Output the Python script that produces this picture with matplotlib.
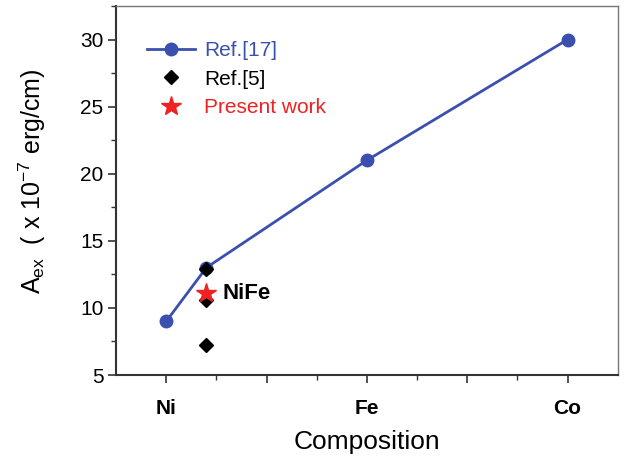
import matplotlib
matplotlib.use("Agg")
import matplotlib.pyplot as plt
from matplotlib.ticker import MultipleLocator, FixedLocator

plt.rcParams['font.family'] = ['Liberation Sans', 'DejaVu Sans']
plt.rcParams['mathtext.fontset'] = 'custom'
plt.rcParams['mathtext.rm'] = 'Liberation Sans'
plt.rcParams['mathtext.it'] = 'Liberation Sans:italic'

# Data
ref17_x = [0.0, 0.2, 1.0, 2.0]
ref17_y = [9.0, 13.0, 21.0, 30.0]
ref5_x = [0.2, 0.2, 0.2]
ref5_y = [12.9, 10.6, 7.2]
present_x = [0.2]
present_y = [11.1]
tick_pos = [0, 0.5, 1, 1.5, 2]
tick_labels = ['Ni', '', 'Fe', '', 'Co']

blue = '#3B50AE'
red = '#EE2222'

fig = plt.figure(figsize=(6.24, 4.59), dpi=100)
ax = fig.add_axes([0.186, 0.183, 0.804, 0.804])

ax.plot(ref17_x, ref17_y, '-o', color=blue, lw=2, ms=9, label='Ref.[17]', zorder=3)
ax.plot(ref5_x, ref5_y, 'D', color='black', ms=7, ls='none', label='Ref.[5]', zorder=4)
ax.plot(present_x, present_y, '*', color=red, ms=15, ls='none', label='Present work', zorder=5)
ax.text(0.28, present_y[0], 'NiFe', fontsize=16, fontweight='bold', va='center', ha='left')

ax.set_xlim(-0.25, 2.25)
ax.set_ylim(5, 32.5)
ax.xaxis.set_major_locator(FixedLocator(tick_pos))
ax.set_xticklabels(tick_labels, fontsize=15, fontweight='bold')
ax.xaxis.set_minor_locator(FixedLocator([0.25, 0.75, 1.25, 1.75]))
ax.yaxis.set_major_locator(MultipleLocator(5))
ax.yaxis.set_minor_locator(MultipleLocator(2.5))
ax.tick_params(axis='y', labelsize=15, pad=3)
ax.tick_params(which='major', direction='out', length=6, width=1.2, color='#333333')
ax.tick_params(which='minor', direction='out', length=3.5, width=1.0, color='#333333')
ax.tick_params(axis='x', pad=11)

for s in ['left', 'bottom']:
    ax.spines[s].set_linewidth(1.5)
    ax.spines[s].set_color('#333333')
for s in ['top', 'right']:
    ax.spines[s].set_linewidth(1.0)
    ax.spines[s].set_color('#777777')

ax.set_xlabel('Composition', fontsize=19, labelpad=9)
ax.set_ylabel(r'A$_{\rm ex}$  ( x 10$^{-7}$ erg/cm)', fontsize=18)
ax.yaxis.set_label_coords(-0.136, 0.526)

leg = ax.legend(loc='upper left', frameon=False, fontsize=15, bbox_to_anchor=(0.032, 0.944),
                handlelength=2.3, handletextpad=0.45, labelspacing=0.45, borderaxespad=0.3)
for t, c in zip(leg.get_texts(), [blue, 'black', red]):
    t.set_color(c)

fig.savefig('out.png', dpi=100)
